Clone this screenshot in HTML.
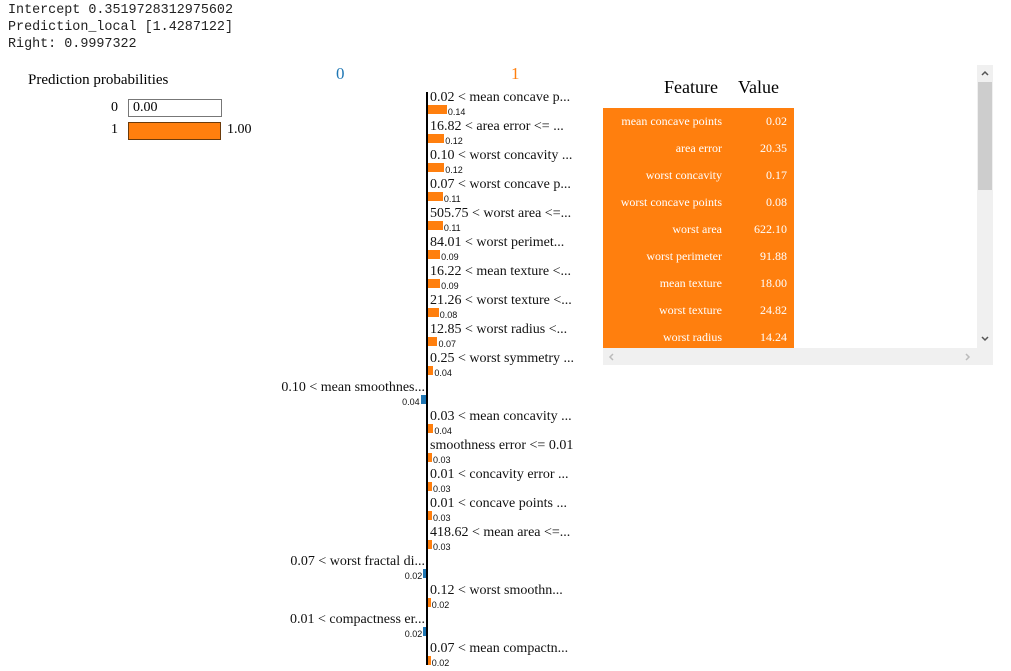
<!DOCTYPE html>
<html><head><meta charset="utf-8"><style>
body{margin:0;width:1011px;height:671px;overflow:hidden;background:#fff;position:relative;font-family:"Liberation Serif",serif}
.abs{position:absolute}
pre{margin:0;font-family:"Liberation Mono",monospace;font-size:13.4px;line-height:17px;color:#222;position:absolute;left:8px;top:2px}
.lbl{position:absolute;font-size:14px;white-space:nowrap;color:#111;line-height:16px}
.val{position:absolute;font-size:9px;color:#111;line-height:10px;font-family:"Liberation Sans",sans-serif}
.trow{position:absolute;left:603px;width:191px;height:27px;background:#ff7f0e;color:#fff;font-size:12px}
.trow span{position:absolute;top:6px}
</style></head><body>
<pre>Intercept 0.3519728312975602
Prediction_local [1.4287122]
Right: 0.9997322</pre>

<div class="abs" style="left:28px;top:72px;font-size:15px">Prediction probabilities</div>
<div class="abs" style="left:111px;top:100px;font-size:14px">0</div>
<div class="abs" style="left:128px;top:99px;width:88px;height:16px;border:1px solid #777;font-size:14px;line-height:16px;padding-left:4px;box-sizing:content-box">0.00</div>
<div class="abs" style="left:111px;top:122px;font-size:14px">1</div>
<div class="abs" style="left:128px;top:122px;width:91px;height:16px;border:1px solid #6b3a0a;background:#ff7f0e"></div>
<div class="abs" style="left:227px;top:122px;font-size:14px">1.00</div>

<div class="abs" style="left:336px;top:64px;font-size:17px;color:#1f77b4">0</div>
<div class="abs" style="left:511px;top:64px;font-size:17px;color:#ff7f0e">1</div>
<div id="chart"></div>
<div class="abs" style="left:426px;top:92px;width:2px;height:573px;background:#000"></div>

<div class="abs" style="left:640px;top:77px;width:78px;text-align:right;font-size:18px">Feature</div>
<div class="abs" style="left:738px;top:77px;font-size:18px">Value</div>
<div id="table"></div>
<div class="abs" style="left:977px;top:65px;width:16px;height:300px;background:#f0f0f0"></div>
<div class="abs" style="left:978px;top:82px;width:14px;height:108px;background:#cdcdcd"></div>
<svg class="abs" style="left:980px;top:69px" width="10" height="8"><path d="M2 6 L5 3 L8 6" stroke="#555" stroke-width="1.5" fill="none"/></svg>
<svg class="abs" style="left:980px;top:335px" width="10" height="8"><path d="M2 2 L5 5 L8 2" stroke="#555" stroke-width="1.5" fill="none"/></svg>
<div class="abs" style="left:603px;top:348px;width:374px;height:17px;background:#f0f0f0"></div>
<svg class="abs" style="left:607px;top:352px" width="8" height="10"><path d="M6 2 L3 5 L6 8" stroke="#bbb" stroke-width="1.5" fill="none"/></svg>
<svg class="abs" style="left:964px;top:352px" width="8" height="10"><path d="M2 2 L5 5 L2 8" stroke="#bbb" stroke-width="1.5" fill="none"/></svg>

<script>
const labels=["0.02 < mean concave p...","16.82 < area error <= ...","0.10 < worst concavity ...","0.07 < worst concave p...","505.75 < worst area <=...","84.01 < worst perimet...","16.22 < mean texture <...","21.26 < worst texture <...","12.85 < worst radius <...","0.25 < worst symmetry ...","0.10 < mean smoothnes...","0.03 < mean concavity ...","smoothness error <= 0.01","0.01 < concavity error ...","0.01 < concave points ...","418.62 < mean area <=...","0.07 < worst fractal di...","0.12 < worst smoothn...","0.01 < compactness er...","0.07 < mean compactn..."];
const weights=[0.14,0.12,0.12,0.11,0.11,0.09,0.09,0.08,0.07,0.04,-0.04,0.04,0.03,0.03,0.03,0.03,-0.02,0.02,-0.02,0.02];
const featNames=["mean concave points","area error","worst concavity","worst concave points","worst area","worst perimeter","mean texture","worst texture","worst radius"];
const featValues=["0.02","20.35","0.17","0.08","622.10","91.88","18.00","24.82","14.24"];
const X0=428, SCALE=135, ROW0=89, ROWH=29;
const xs=v=>Math.abs(v)*SCALE;
const chart=document.getElementById('chart');
labels.forEach((t,i)=>{
  const w=weights[i], top=ROW0+i*ROWH, bw=Math.max(2,xs(w));
  const l=document.createElement('div');l.className='lbl';l.textContent=t;
  
  
  l.style.top=(top+1)+'px';
  const b=document.createElement('div');b.className='abs';
  
  
  b.style.top=(top+16)+'px';b.style.height='9px';b.style.width=bw+'px';
  const v=document.createElement('div');v.className='val';v.textContent=Math.abs(w).toFixed(2);
  
  
  v.style.top=(top+18)+'px';
  if(w>=0){l.style.left='430px';b.style.left=X0+'px';b.style.background='#ff7f0e';v.style.left=(X0+bw+1)+'px';}
  else{l.style.right=(1011-425)+'px';b.style.left=(X0-2-bw)+'px';b.style.background='#1f77b4';v.style.right=(1011-(X0-3-bw))+'px';}
  chart.appendChild(l);chart.appendChild(b);chart.appendChild(v);
});
const tb=document.getElementById('table');
featNames.forEach((n,i)=>{
  const r=document.createElement('div');r.className='trow';
  
  
  r.style.top=(108+i*27)+'px';
  r.innerHTML='<span style="right:72px">'+n+'</span><span style="right:7px">'+featValues[i]+'</span>';
  tb.appendChild(r);
});
</script>
</body></html>
